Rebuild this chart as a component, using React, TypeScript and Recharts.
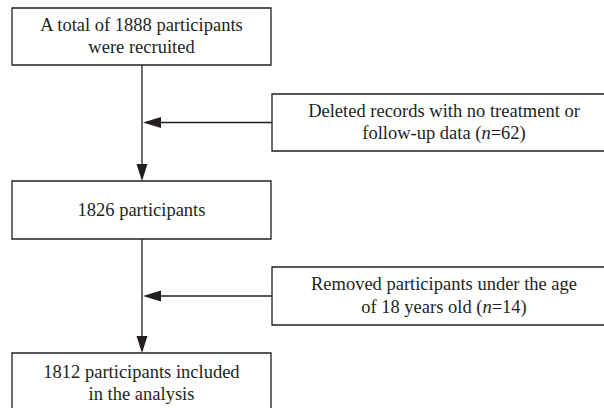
import React from "react";
import {
  ComposedChart,
  XAxis,
  YAxis,
  ReferenceArea,
  ReferenceLine,
  ReferenceDot,
} from "recharts";

// ---- data ----
const stageCounts = [1888, 1826, 1812];
const exclusionCounts = [62, 14];
const stageLabels = [
  [`A total of ${stageCounts[0]} participants`, "were recruited"],
  [`${stageCounts[1]} participants`],
  [`${stageCounts[2]} participants included`, "in the analysis"],
];
const exclusionLabels = [
  ["Deleted records with no treatment or", `follow-up data (n=${exclusionCounts[0]})`],
  ["Removed participants under the age", `of 18 years old (n=${exclusionCounts[1]})`],
];

// ---- layout (pixel space of the 604x408 canvas) ----
const W = 604;
const H = 408;
const INK = "#231f20";
const FONT = "Liberation Serif";
const mainX: [number, number] = [12, 271];
const stageY: [number, number][] = [
  [8, 65],
  [181, 239],
  [353, 414],
];
const sideX: [number, number] = [272, 616];
const sideY: [number, number][] = [
  [94, 151],
  [267, 325],
];
const spineX = 142;

const renderLine = (line: string) => {
  const m = line.match(/^(.*\()n(=.*)$/);
  if (!m) return line;
  return [
    <tspan key="a">{m[1]}</tspan>,
    <tspan key="b" fontStyle="italic">n</tspan>,
    <tspan key="c">{m[2]}</tspan>,
  ];
};

const makeLabel = (lines: string[]) => (props: any) => {
  const vb = props.viewBox || {};
  const cx = vb.x + vb.width / 2;
  const cy = vb.y + vb.height / 2;
  const gap = 22.5;
  const first = cy + 5.5 - ((lines.length - 1) * gap) / 2;
  return (
    <text textAnchor="middle" fontFamily={FONT} fontSize={18.5} fill={INK}>
      {lines.map((l, i) => (
        <tspan key={i} x={cx} y={first + i * gap}>
          {renderLine(l)}
        </tspan>
      ))}
    </text>
  );
};

const DownHead = (p: any) => (
  <path
    d={`M${p.cx - 5.5},${p.cy - 17} L${p.cx + 5.5},${p.cy - 17} L${p.cx},${p.cy} Z`}
    fill={INK}
  />
);
const LeftHead = (p: any) => (
  <path
    d={`M${p.cx},${p.cy} L${p.cx + 18},${p.cy - 5.5} L${p.cx + 18},${p.cy + 5.5} Z`}
    fill={INK}
  />
);

export default function App() {
  return (
    <div
      style={{
        position: "absolute",
        left: 0,
        top: 0,
        width: W,
        height: H,
        background: "#fff",
      }}
    >
      <ComposedChart
        width={W}
        height={H}
        data={[{ x: 0, y: 0 }, { x: W, y: H }]}
        margin={{ top: 0, right: 0, bottom: 0, left: 0 }}
      >
        <XAxis type="number" dataKey="x" domain={[0, W]} hide allowDataOverflow />
        <YAxis type="number" dataKey="y" domain={[0, H]} reversed hide allowDataOverflow />

        {stageY.map((yr, i) => (
          <ReferenceArea
            key={`s${i}`}
            x1={mainX[0]}
            x2={mainX[1]}
            y1={yr[0]}
            y2={yr[1]}
            ifOverflow="visible"
            fill="#fff"
            fillOpacity={1}
            stroke={INK}
            strokeWidth={1.3}
            label={makeLabel(stageLabels[i])}
          />
        ))}
        {sideY.map((yr, i) => (
          <ReferenceArea
            key={`e${i}`}
            x1={sideX[0]}
            x2={sideX[1]}
            y1={yr[0]}
            y2={yr[1]}
            ifOverflow="visible"
            fill="#fff"
            fillOpacity={1}
            stroke={INK}
            strokeWidth={1.3}
            label={makeLabel(exclusionLabels[i])}
          />
        ))}

        {[0, 1].map((i) => (
          <ReferenceLine
            key={`v${i}`}
            segment={[
              { x: spineX, y: stageY[i][1] },
              { x: spineX, y: stageY[i + 1][0] - 2 },
            ]}
            stroke={INK}
            strokeWidth={1.3}
            ifOverflow="visible"
          />
        ))}
        {[0, 1].map((i) => {
          const yMid = (sideY[i][0] + sideY[i][1]) / 2;
          return (
            <ReferenceLine
              key={`h${i}`}
              segment={[
                { x: sideX[0], y: yMid },
                { x: spineX + 4, y: yMid },
              ]}
              stroke={INK}
              strokeWidth={1.3}
              ifOverflow="visible"
            />
          );
        })}
        {[0, 1].map((i) => (
          <ReferenceDot
            key={`dh${i}`}
            x={spineX}
            y={stageY[i + 1][0]}
            r={1}
            ifOverflow="visible"
            shape={DownHead}
          />
        ))}
        {[0, 1].map((i) => (
          <ReferenceDot
            key={`lh${i}`}
            x={spineX + 1}
            y={(sideY[i][0] + sideY[i][1]) / 2}
            r={1}
            ifOverflow="visible"
            shape={LeftHead}
          />
        ))}
      </ComposedChart>
    </div>
  );
}
